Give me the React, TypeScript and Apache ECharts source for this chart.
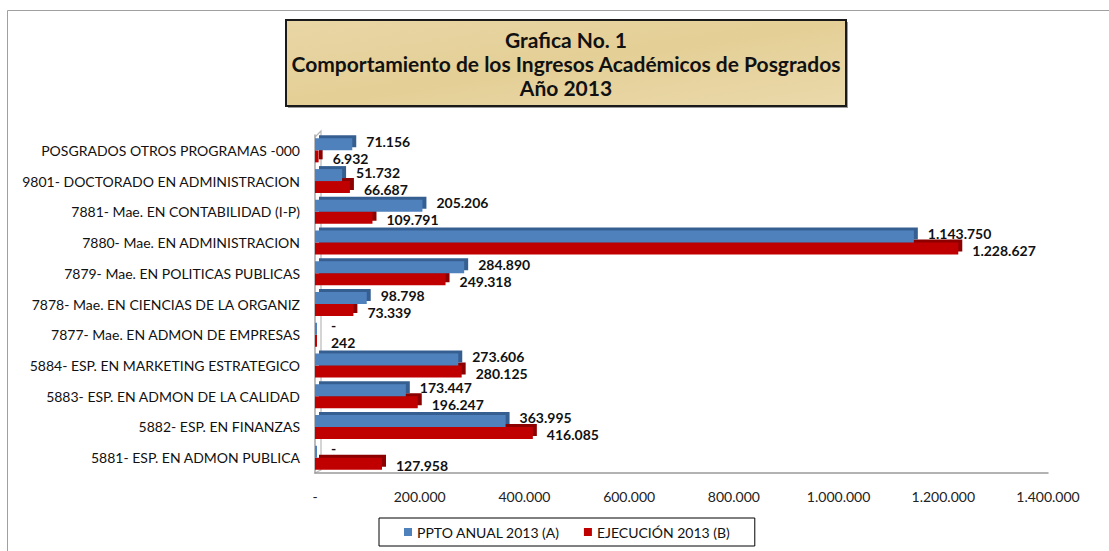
import React, { useEffect, useRef } from "react";
import * as echarts from "echarts";

const categories = [
  "POSGRADOS OTROS PROGRAMAS -000",
  "9801- DOCTORADO EN ADMINISTRACION",
  "7881- Mae. EN CONTABILIDAD (I-P)",
  "7880- Mae. EN ADMINISTRACION",
  "7879- Mae. EN POLITICAS PUBLICAS",
  "7878- Mae. EN CIENCIAS DE LA ORGANIZ",
  "7877- Mae. EN ADMON DE EMPRESAS",
  "5884- ESP. EN MARKETING ESTRATEGICO",
  "5883- ESP. EN ADMON DE LA CALIDAD",
  "5882- ESP. EN FINANZAS",
  "5881- ESP. EN ADMON PUBLICA",
];
const pptoAnual = [71156, 51732, 205206, 1143750, 284890, 98798, 0, 273606, 173447, 363995, 0];
const ejecucion = [6932, 66687, 109791, 1228627, 249318, 73339, 242, 280125, 196247, 416085, 127958];
const seriesNames = ["PPTO ANUAL 2013 (A)", "EJECUCIÓN 2013 (B)"];
const titleLines = ["Grafica No. 1", "Comportamiento de los Ingresos Académicos de Posgrados", "Año 2013"];

const fmt = (v: number) => (v === 0 ? "-" : String(v).replace(/\B(?=(\d{3})+(?!\d))/g, "."));
const FONT = "Lato";

export default function App() {
  const ref = useRef<HTMLDivElement>(null);
  useEffect(() => {
    document.body.style.margin = "0";
    const chart = echarts.init(ref.current!, undefined, { renderer: "svg" });
    const labelBase = {
      show: true,
      position: "right",
      distance: 14,
      fontFamily: FONT,
      fontWeight: "bold",
      fontSize: 14,
      color: "#111",
      formatter: (p: any) => fmt(p.value),
    };
    chart.setOption({
      animation: false,
      backgroundColor: "#fff",
      grid: { left: 315, right: 61, top: 135, bottom: 78, containLabel: false },
      xAxis: {
        type: "value",
        min: 0,
        max: 1400000,
        interval: 200000,
        splitLine: { show: false },
        axisTick: { show: false },
        axisLine: { show: true, lineStyle: { color: "#9a9a9a", width: 1.5 } },
        axisLabel: {
          margin: 16,
          fontFamily: FONT,
          fontSize: 14,
          color: "#222",
          formatter: (v: number) => fmt(v),
        },
      },
      yAxis: {
        type: "category",
        inverse: true,
        data: categories,
        axisTick: { show: false },
        axisLine: { show: true, lineStyle: { color: "#a6a6a6", width: 1.5 } },
        axisLabel: {
          margin: 15,
          fontFamily: FONT,
          fontSize: 14,
          color: "#111",
          padding: [6, 0, 0, 0],
        },
      },
      legend: {
        top: 518,
        left: 379,
        itemWidth: 8,
        itemHeight: 8,
        itemGap: 24,
        icon: "rect",
        borderColor: "#000",
        borderWidth: 1,
        padding: [7, 25],
        textStyle: { fontFamily: FONT, fontSize: 14, color: "#111" },
        itemStyle: { shadowColor: "transparent", shadowOffsetX: 0, shadowOffsetY: 0 },
        data: seriesNames,
      },
      series: [
        {
          type: "bar",
          name: seriesNames[0],
          data: pptoAnual,
          barWidth: 12,
          barGap: "0%",
          barMinHeight: 2,
          z: 3,
          itemStyle: {
            color: "#4f81bd",
            shadowColor: "#365f91",
            shadowOffsetX: 4,
            shadowOffsetY: -3,
            shadowBlur: 0,
          },
          label: { ...labelBase, offset: [0, -3] },
        },
        {
          type: "bar",
          name: seriesNames[1],
          data: ejecucion,
          barWidth: 12,
          barGap: "0%",
          barMinHeight: 2,
          z: 2,
          itemStyle: {
            color: "#c00000",
            shadowColor: "#8c0000",
            shadowOffsetX: 4,
            shadowOffsetY: -3,
            shadowBlur: 0,
          },
          label: { ...labelBase, offset: [0, 2] },
        },
      ],
      graphic: [
        {
          type: "rect",
          shape: { x: 7.5, y: 10.5, width: 1200, height: 700 },
          style: { fill: "none", stroke: "#a0a0a0", lineWidth: 1 },
          silent: true,
          z: -10,
        },
        {
          type: "polyline",
          shape: { points: [[315, 137], [321, 131], [321, 470], [315, 473]] },
          style: { fill: "none", stroke: "#b8b8b8", lineWidth: 1.2 },
          silent: true,
        },
        {
          type: "group",
          children: [
            {
              type: "rect",
              shape: { x: 288, y: 22, width: 560, height: 86 },
              style: { fill: "#9a9a9a" },
            },
            {
              type: "rect",
              shape: { x: 286, y: 20, width: 560, height: 86 },
              style: {
                fill: new echarts.graphic.LinearGradient(0, 0, 1, 1, [
                  { offset: 0, color: "#e9d6a6" },
                  { offset: 0.5, color: "#e4cf96" },
                  { offset: 1, color: "#ead9ab" },
                ]),
                stroke: "#1a1a1a",
                lineWidth: 2,
              },
            },
            ...titleLines.map((t, i) => ({
              type: "text",
              x: 566,
              y: [39, 63, 87][i],
              style: {
                text: t,
                fontFamily: FONT,
                fontWeight: "bold",
                fontSize: 21,
                fill: "#111",
                align: "center",
                verticalAlign: "middle",
              },
            })),
          ],
        },
      ],
    });
    return () => chart.dispose();
  }, []);
  return <div ref={ref} style={{ width: 1109, height: 551 }} />;
}
